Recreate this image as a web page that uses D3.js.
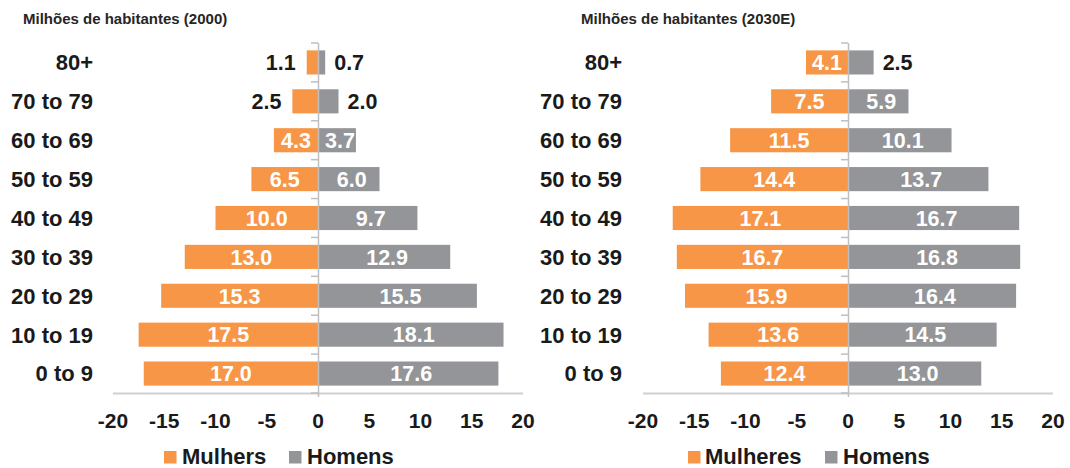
<!DOCTYPE html>
<html>
<head>
<meta charset="utf-8">
<script src="https://cdn.jsdelivr.net/npm/d3@7"></script>
<style>
  html, body { margin: 0; padding: 0; background: #fff; }
  svg { display: block; font-family: "Liberation Sans", Arial, sans-serif; }
</style>
</head>
<body>
<svg id="chart" width="1070" height="468"></svg>
<script>
const categories = ["80+", "70 to 79", "60 to 69", "50 to 59", "40 to 49", "30 to 39", "20 to 29", "10 to 19", "0 to 9"];
const women2000 = [1.1, 2.5, 4.3, 6.5, 10.0, 13.0, 15.3, 17.5, 17.0];
const men2000   = [0.7, 2.0, 3.7, 6.0, 9.7, 12.9, 15.5, 18.1, 17.6];
const women2030 = [4.1, 7.5, 11.5, 14.4, 17.1, 16.7, 15.9, 13.6, 12.4];
const men2030   = [2.5, 5.9, 10.1, 13.7, 16.7, 16.8, 16.4, 14.5, 13.0];
const tickValues = [-20, -15, -10, -5, 0, 5, 10, 15, 20];
const titles = ["Milhões de habitantes (2000)", "Milhões de habitantes (2030E)"];
const legendWomen = ["Mulhers", "Mulheres"];
const legendMen = "Homens";

const ORANGE = "#F79646";
const GRAY = "#939598";
const TEXT = "#1a1a1a";

const svg = d3.select("#chart");

function panel(cfg) {
  const g = svg.append("g");
  const x = d3.scaleLinear().domain([-20, 20]).range([cfg.x0, cfg.x1]);
  const y = d3.scaleBand().domain(categories).range([43, 393])
    .paddingInner(0.38).paddingOuter(0.19);

  // title
  g.append("text").attr("x", cfg.titleX).attr("y", 24)
    .attr("font-size", 15).attr("font-weight", "bold").attr("fill", "#262626")
    .text(cfg.title);

  const rows = categories.map((c, i) => ({c, w: cfg.women[i], m: cfg.men[i]}));
  g.selectAll(".bw").data(rows).join("rect")
    .attr("x", d => x(-d.w)).attr("width", d => x(0) - x(-d.w))
    .attr("y", d => y(d.c)).attr("height", y.bandwidth())
    .attr("fill", ORANGE);
  g.selectAll(".bm").data(rows).join("rect")
    .attr("x", x(0)).attr("width", d => x(d.m) - x(0))
    .attr("y", d => y(d.c)).attr("height", y.bandwidth())
    .attr("fill", GRAY);

  // horizontal axis line
  g.append("line").attr("x1", x(-20)).attr("x2", x(20))
    .attr("y1", 393.5).attr("y2", 393.5)
    .attr("stroke", "#D0D0D0").attr("stroke-width", 2);

  // vertical axis line + ticks at band boundaries
  g.append("line").attr("x1", x(0) + 0.5).attr("x2", x(0) + 0.5)
    .attr("y1", 43).attr("y2", 397)
    .attr("stroke", "#BFBFBF").attr("stroke-width", 1.5);
  const step = y.step();
  const bounds = d3.range(categories.length + 1).map(i => 43 + i * step);
  g.selectAll(".yt").data(bounds).join("line")
    .attr("x1", x(0) - 7).attr("x2", x(0))
    .attr("y1", d => d).attr("y2", d => d)
    .attr("stroke", "#BFBFBF").attr("stroke-width", 1.5);

  // category labels
  g.selectAll(".cl").data(categories).join("text")
    .attr("x", cfg.catX).attr("y", d => y(d) + y.bandwidth() / 2)
    .attr("dy", "0.36em").attr("text-anchor", "end")
    .attr("font-size", 22).attr("font-weight", "bold").attr("fill", TEXT)
    .text(d => d);

  // value labels
  const inside = v => v >= 3;
  g.selectAll(".vw").data(rows).join("text")
    .attr("x", d => inside(d.w) ? (x(-d.w) + x(0)) / 2 : x(-d.w) - 11)
    .attr("y", d => y(d.c) + y.bandwidth() / 2).attr("dy", "0.36em")
    .attr("text-anchor", d => inside(d.w) ? "middle" : "end")
    .attr("font-size", 21.5).attr("font-weight", "bold")
    .attr("fill", d => inside(d.w) ? "#fff" : TEXT)
    .text(d => d.w.toFixed(1));
  g.selectAll(".vm").data(rows).join("text")
    .attr("x", d => inside(d.m) ? (x(d.m) + x(0)) / 2 + 3 : x(d.m) + 9)
    .attr("y", d => y(d.c) + y.bandwidth() / 2).attr("dy", "0.36em")
    .attr("text-anchor", d => inside(d.m) ? "middle" : "start")
    .attr("font-size", 21.5).attr("font-weight", "bold")
    .attr("fill", d => inside(d.m) ? "#fff" : TEXT)
    .text(d => d.m.toFixed(1));

  // x tick labels
  g.selectAll(".xt").data(tickValues).join("text")
    .attr("x", d => x(d)).attr("y", 428)
    .attr("text-anchor", "middle")
    .attr("font-size", 21).attr("font-weight", "bold").attr("fill", TEXT)
    .text(d => String(d));

  // legend
  const lg = g.append("g");
  lg.append("rect").attr("x", cfg.leg[0]).attr("y", 451).attr("width", 12.5).attr("height", 12.5).attr("fill", ORANGE);
  lg.append("text").attr("x", cfg.leg[1]).attr("y", 464)
    .attr("font-size", 22).attr("font-weight", "bold").attr("fill", TEXT).text(cfg.legW);
  lg.append("rect").attr("x", cfg.leg[2]).attr("y", 451).attr("width", 12.5).attr("height", 12.5).attr("fill", GRAY);
  lg.append("text").attr("x", cfg.leg[3]).attr("y", 464)
    .attr("font-size", 22).attr("font-weight", "bold").attr("fill", TEXT).text(legendMen);
}

panel({x0: 113, x1: 523, title: titles[0], titleX: 23, catX: 93,
  women: women2000, men: men2000, legW: legendWomen[0], leg: [164, 182, 289, 307]});
panel({x0: 643, x1: 1053, title: titles[1], titleX: 581, catX: 622,
  women: women2030, men: men2030, legW: legendWomen[1], leg: [688, 705, 825, 843]});
</script>
</body>
</html>
